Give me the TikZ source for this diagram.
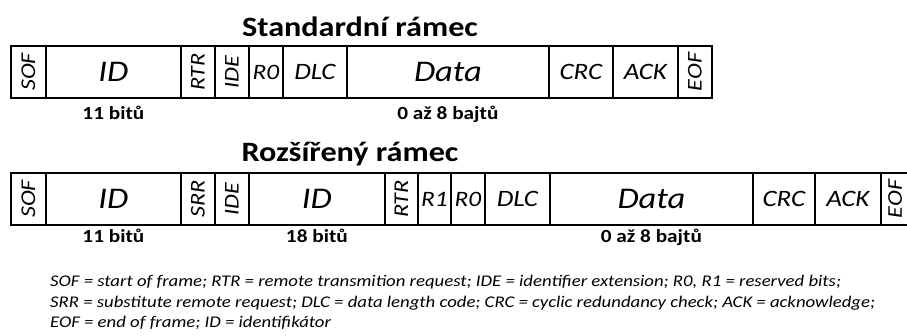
\documentclass[tikz,border=0pt]{standalone}
\usepackage{fontspec}
\setmainfont{Carlito}[FakeStretch=1.15]
\newcommand{\fsz}[1]{\fontsize{#1}{#1}\selectfont}
\newcommand{\vt}[1]{\rotatebox{90}{#1}}
\begin{document}
\begin{tikzpicture}[x=1pt,y=-1pt,
  cell/.style={draw, line width=1.8pt, inner sep=0pt, minimum height=52pt,
    anchor=west, font=\itshape\fsz{23.5}},
  big/.style={font=\itshape\fsz{30}},
  small/.style={font=\itshape\fsz{22}},
  vert/.style={font=\itshape\fsz{21}},
  title/.style={font=\bfseries\fsz{28}, inner sep=0pt, anchor=base},
  bits/.style={font=\bfseries\fsz{18.5}, inner sep=0pt, anchor=base},
  note/.style={font=\itshape\fsz{16.3}, inner sep=0pt, anchor=base west}]
\useasboundingbox (0,0) rectangle (907,336);
\clip (0,0) rectangle (907,336);

% standard frame
\node[title] (t1) at (360,37) {Standardní rámec};
\node[cell, vert, minimum width=35pt] (s-sof) at (10,72) {\vt{SOF}};
\node[cell, big, minimum width=135pt] (s-id) at (45,72) {ID};
\node[cell, vert, minimum width=34pt] (s-rtr) at (180,72) {\vt{RTR}};
\node[cell, vert, minimum width=34pt] (s-ide) at (214,72) {\vt{IDE}};
\node[cell, small, minimum width=34pt] (s-r0) at (248,72) {R0};
\node[cell, minimum width=64pt] (s-dlc) at (282,72) {DLC};
\node[cell, big, minimum width=202pt] (s-data) at (346,72) {Data};
\node[cell, minimum width=64pt] (s-crc) at (548,72) {CRC};
\node[cell, minimum width=65pt] (s-ack) at (612,72) {ACK};
\node[cell, vert, minimum width=34pt] (s-eof) at (677,72) {\vt{EOF}};
\node[bits] (s-idbits) at (s-id.south |- 0,120) {11 bitů};
\node[bits] (s-databits) at (s-data.south |- 0,120) {0 až 8 bajtů};

% extended frame (its last cell runs past the right edge)
\node[title] (t2) at (350,162) {Rozšířený rámec};
\node[cell, vert, minimum width=35pt] (e-sof) at (10,199) {\vt{SOF}};
\node[cell, big, minimum width=135pt] (e-id) at (45,199) {ID};
\node[cell, vert, minimum width=34pt] (e-srr) at (180,199) {\vt{SRR}};
\node[cell, vert, minimum width=34pt] (e-ide) at (214,199) {\vt{IDE}};
\node[cell, big, minimum width=136pt] (e-id2) at (248,199) {ID};
\node[cell, vert, minimum width=33pt] (e-rtr) at (384,199) {\vt{RTR}};
\node[cell, small, minimum width=33pt] (e-r1) at (417,199) {R1};
\node[cell, small, minimum width=34pt] (e-r0) at (450,199) {R0};
\node[cell, minimum width=65pt] (e-dlc) at (484,199) {DLC};
\node[cell, big, minimum width=203pt] (e-data) at (549,199) {Data};
\node[cell, minimum width=62pt] (e-crc) at (752,199) {CRC};
\node[cell, minimum width=66pt] (e-ack) at (814,199) {ACK};
\node[cell, vert, minimum width=28.5pt] (e-eof) at (880,199) {\vt{EOF}};
\node[bits] (e-idbits) at (e-id.south |- 0,243) {11 bitů};
\node[bits] (e-id2bits) at (e-id2.south |- 0,243) {18 bitů};
\node[bits] (e-databits) at (e-data.south |- 0,243) {0 až 8 bajtů};

% legend
\node[note] (n1) at (50,287) {SOF = start of frame; RTR = remote transmition request; IDE = identifier extension; R0, R1 = reserved bits;};
\node[note] (n2) at (50,308) {SRR = substitute remote request; DLC = data length code; CRC = cyclic redundancy check; ACK = acknowledge;};
\node[note] (n3) at (50,328) {EOF = end of frame; ID = identifikátor};
\end{tikzpicture}
\end{document}
